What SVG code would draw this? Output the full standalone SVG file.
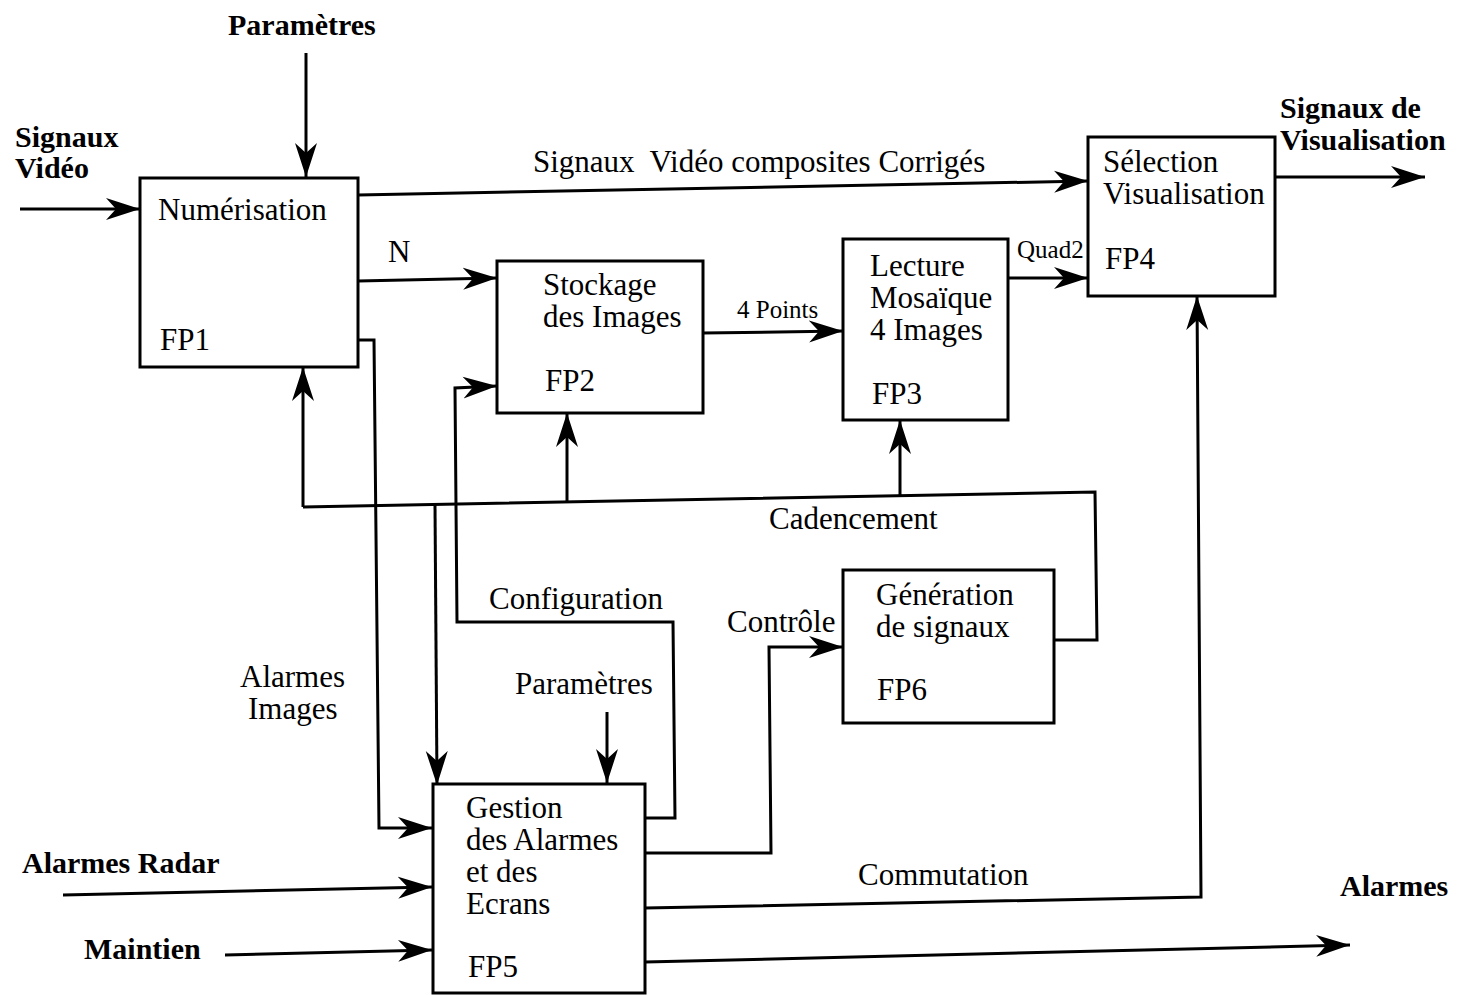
<svg xmlns="http://www.w3.org/2000/svg" width="1460" height="995" viewBox="0 0 1460 995">
<defs>
<marker id="ah" markerUnits="userSpaceOnUse" markerWidth="40" markerHeight="30" refX="34" refY="12" orient="auto"><path d="M0,1 L34,12 L0,23 L10,12 Z" fill="#000"/></marker>
<style>
.box{fill:#fff;stroke:#000;stroke-width:3}
.ln{fill:none;stroke:#000;stroke-width:3}
.ar{fill:none;stroke:#000;stroke-width:3;marker-end:url(#ah)}
text{font-family:"Liberation Serif","Times New Roman",serif;font-size:31px;fill:#000}
.b{font-weight:bold;font-size:30px}
.s{font-size:25px}
</style>
</defs>
<rect width="1460" height="995" fill="#fff"/>
<g id="connectors">
<path class="ar" d="M306,53 L306,177"/>
<path class="ar" d="M20,209 L140,209"/>
<path class="ar" d="M358,195 L1088,181"/>
<path class="ar" d="M358,281 L497,278"/>
<path class="ar" d="M703,333 L843,331"/>
<path class="ar" d="M1008,278 L1088,278"/>
<path class="ar" d="M1275,177 L1425,177"/>
<path class="ar" d="M358,340 L374,340 L379,828 L432,828"/>
<path class="ar" d="M645,818 L675,818 L673,622 L457,622 L455,388 L497,386"/>
<path class="ln" d="M1055,640 L1097,640 L1095,492 L303,507"/>
<path class="ar" d="M303,507 L303,367"/>
<path class="ar" d="M567,502 L567,413"/>
<path class="ar" d="M900,496 L900,420"/>
<path class="ar" d="M435,505 L437,785"/>
<path class="ar" d="M607,712 L607,783"/>
<path class="ar" d="M645,853 L771,853 L769,647 L843,647"/>
<path class="ar" d="M645,908 L1201,897 L1197,296"/>
<path class="ar" d="M645,962 L1350,945"/>
<path class="ar" d="M63,895 L432,887"/>
<path class="ar" d="M225,955 L432,950"/>
</g>
<g id="FP1"><rect class="box" x="140" y="178" width="218" height="189"/><text x="158" y="220">Numérisation</text><text x="160" y="350">FP1</text></g>
<g id="FP2"><rect class="box" x="497" y="261" width="206" height="152"/><text x="543" y="295">Stockage</text><text x="543" y="327">des Images</text><text x="545" y="391">FP2</text></g>
<g id="FP3"><rect class="box" x="843" y="239" width="165" height="181"/><text x="870" y="276">Lecture</text><text x="870" y="308">Mosaïque</text><text x="870" y="340">4 Images</text><text x="872" y="404">FP3</text></g>
<g id="FP4"><rect class="box" x="1088" y="137" width="187" height="159"/><text x="1103" y="172">Sélection</text><text x="1103" y="204">Visualisation</text><text x="1105" y="269">FP4</text></g>
<g id="FP5"><rect class="box" x="433" y="784" width="212" height="209"/><text x="466" y="818">Gestion</text><text x="466" y="850">des Alarmes</text><text x="466" y="882">et des</text><text x="466" y="914">Ecrans</text><text x="468" y="977">FP5</text></g>
<g id="FP6"><rect class="box" x="843" y="570" width="211" height="153"/><text x="876" y="605">Génération</text><text x="876" y="637">de signaux</text><text x="877" y="700">FP6</text></g>
<g id="labels">
<text class="b" x="228" y="35">Paramètres</text>
<text class="b" x="15" y="147">Signaux</text>
<text class="b" x="15" y="178">Vidéo</text>
<text x="533" y="172">Signaux&#160; Vidéo composites Corrigés</text>
<text x="388" y="262">N</text>
<text class="s" x="737" y="318">4 Points</text>
<text class="s" x="1017" y="258" font-size="24">Quad2</text>
<text class="b" x="1280" y="118">Signaux de</text>
<text class="b" x="1280" y="150">Visualisation</text>
<text x="769" y="529">Cadencement</text>
<text x="489" y="609">Configuration</text>
<text x="727" y="632">Contrôle</text>
<text x="240" y="687">Alarmes</text>
<text x="248" y="719">Images</text>
<text x="515" y="694">Paramètres</text>
<text class="b" x="22" y="873">Alarmes Radar</text>
<text class="b" x="84" y="959">Maintien</text>
<text x="858" y="885">Commutation</text>
<text class="b" x="1340" y="896">Alarmes</text>
</g>
</svg>
